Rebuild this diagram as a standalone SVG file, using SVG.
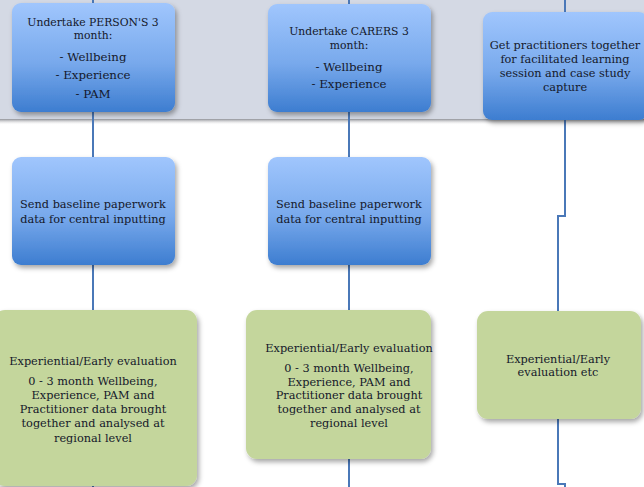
<svg xmlns="http://www.w3.org/2000/svg" width="644" height="487" viewBox="0 0 644 487">
<defs>
<linearGradient id="blue" x1="0" y1="0" x2="0" y2="1">
<stop offset="0" stop-color="#a0c6fd"/>
<stop offset="0.55" stop-color="#78a9ec"/>
<stop offset="1" stop-color="#3d7dd0"/>
</linearGradient>
<linearGradient id="bandShadow" x1="0" y1="0" x2="0" y2="1">
<stop offset="0" stop-color="#8e9096"/>
<stop offset="1" stop-color="#ffffff" stop-opacity="0"/>
</linearGradient>
<filter id="sh" x="-10%" y="-10%" width="125%" height="130%">
<feDropShadow dx="2" dy="3" stdDeviation="2.5" flood-color="#000" flood-opacity="0.35"/>
</filter>
</defs>
<style>
.blue{fill:url(#blue);filter:url(#sh)}
.green{fill:#c4d69c;filter:url(#sh)}
.conn{stroke:#4a78b8;stroke-width:2;fill:none}
text{font-family:"DejaVu Serif","Liberation Serif",serif;font-size:11.3px;fill:#14182a;text-anchor:middle}
.s{font-size:10.8px}
.m{font-size:11.8px}
</style>
<rect x="0" y="0" width="644" height="119" fill="#d4d9e4"/>
<rect x="0" y="119" width="644" height="6" fill="url(#bandShadow)"/>
<g id="connectors">
<path class="conn" d="M93 0V487"/>
<path class="conn" d="M349 0V487"/>
<path class="conn" d="M565 0V216H558V484H565V487"/>
</g>
<g id="n1">
<rect class="blue" x="12" y="3" width="163" height="109" rx="9"/>
<text class="s" x="93" y="26">Undertake PERSON'S 3</text>
<text class="s" x="93" y="39">month:</text>
<text class="m" x="93" y="61">- Wellbeing</text>
<text class="m" x="93" y="79">- Experience</text>
<text class="m" x="93" y="98">- PAM</text>
</g>
<g id="n2">
<rect class="blue" x="268" y="4" width="163" height="108" rx="9"/>
<text class="s" x="349" y="35">Undertake CARERS 3</text>
<text class="s" x="349" y="49">month:</text>
<text class="m" x="349" y="71">- Wellbeing</text>
<text class="m" x="349" y="88">- Experience</text>
</g>
<g id="n3">
<rect class="blue" x="483" y="12" width="165" height="108" rx="9"/>
<text x="565" y="49">Get practitioners together</text>
<text x="565" y="63">for facilitated learning</text>
<text x="565" y="77">session and case study</text>
<text x="565" y="91">capture</text>
</g>
<g id="n4">
<rect class="blue" x="12" y="157" width="163" height="108" rx="9"/>
<text x="93" y="208">Send baseline paperwork</text>
<text x="93" y="223">data for central inputting</text>
</g>
<g id="n5">
<rect class="blue" x="268" y="157" width="163" height="108" rx="9"/>
<text x="349" y="208">Send baseline paperwork</text>
<text x="349" y="223">data for central inputting</text>
</g>
<g id="n6">
<rect class="green" x="-6" y="310" width="203" height="176" rx="11"/>
<text x="93" y="365">Experiential/Early evaluation</text>
<text x="93" y="385">0 - 3 month Wellbeing,</text>
<text x="93" y="399">Experience, PAM  and</text>
<text x="93" y="413">Practitioner data brought</text>
<text x="93" y="427">together and analysed at</text>
<text x="93" y="442">regional level</text>
</g>
<g id="n7">
<rect class="green" x="246" y="310" width="185" height="149" rx="11"/>
<text x="349" y="352">Experiential/Early evaluation</text>
<text x="349" y="372">0 - 3 month Wellbeing,</text>
<text x="349" y="386">Experience, PAM and</text>
<text x="349" y="399">Practitioner data brought</text>
<text x="349" y="413">together and analysed at</text>
<text x="349" y="427">regional level</text>
</g>
<g id="n8">
<rect class="green" x="477" y="311" width="164" height="108" rx="11"/>
<text x="558" y="363">Experiential/Early</text>
<text x="558" y="376">evaluation etc</text>
</g>
</svg>
